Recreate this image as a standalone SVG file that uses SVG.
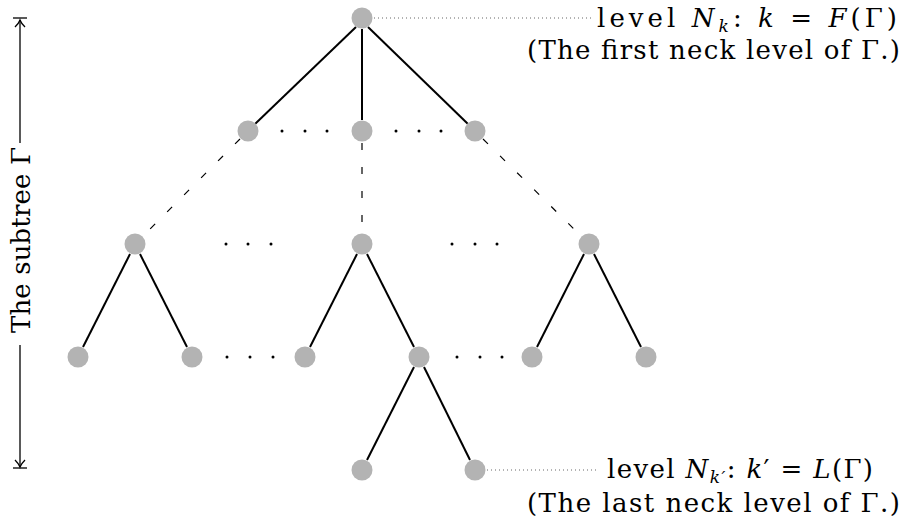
<svg xmlns="http://www.w3.org/2000/svg" width="920" height="526" viewBox="0 0 920 526">
<style>
.n{fill:#b3b3b3}
.e{stroke:#000;stroke-width:2;fill:none;stroke-linecap:butt}
.d{stroke:#000;stroke-width:1.2;fill:none;stroke-dasharray:7 17}
.dot{fill:#000}
.lead{stroke:#666;stroke-width:1;stroke-dasharray:1 3;fill:none}
.t{font-family:"DejaVu Serif",serif;font-size:26px;fill:#000}
</style>
<defs>
<marker id="ah" viewBox="-8 -6 10 12" refX="0" refY="0" markerWidth="10" markerHeight="12" markerUnits="userSpaceOnUse" orient="auto">
<path d="M-7,-5 Q-3,-1 0,0 Q-3,1 -7,5" stroke="#000" stroke-width="1.3" fill="none"/>
</marker>
</defs>
<g id="connectors">
<line class="e" x1="356" y1="27" x2="255" y2="124"/>
<line class="e" x1="362" y1="29" x2="362" y2="120"/>
<line class="e" x1="368" y1="27" x2="468" y2="124"/>
<line class="d" x1="240" y1="139" x2="143" y2="236"/>
<line class="d" x1="362" y1="143" x2="362" y2="234"/>
<line class="d" x1="483" y1="139" x2="581" y2="236"/>
<line class="e" x1="130" y1="254" x2="83" y2="347"/>
<line class="e" x1="140" y1="254" x2="187" y2="347"/>
<line class="e" x1="357" y1="254" x2="310" y2="347"/>
<line class="e" x1="367" y1="254" x2="414" y2="347"/>
<line class="e" x1="584" y1="254" x2="537" y2="347"/>
<line class="e" x1="594" y1="254" x2="641" y2="347"/>
<line class="e" x1="414" y1="367" x2="367" y2="460"/>
<line class="e" x1="424" y1="367" x2="470" y2="460"/>
<line class="lead" x1="374" y1="18" x2="592" y2="18"/>
<line class="lead" x1="487" y1="470" x2="598" y2="470"/>
</g>
<g id="dots">
<circle class="dot" cx="282" cy="131" r="1.5"/><circle class="dot" cx="305" cy="131" r="1.5"/><circle class="dot" cx="327" cy="131" r="1.5"/>
<circle class="dot" cx="396" cy="131" r="1.5"/><circle class="dot" cx="419" cy="131" r="1.5"/><circle class="dot" cx="441" cy="131" r="1.5"/>
<circle class="dot" cx="226" cy="244" r="1.5"/><circle class="dot" cx="248" cy="244" r="1.5"/><circle class="dot" cx="271" cy="244" r="1.5"/>
<circle class="dot" cx="452" cy="244" r="1.5"/><circle class="dot" cx="475" cy="244" r="1.5"/><circle class="dot" cx="497" cy="244" r="1.5"/>
<circle class="dot" cx="227" cy="357" r="1.5"/><circle class="dot" cx="250" cy="357" r="1.5"/><circle class="dot" cx="273" cy="357" r="1.5"/>
<circle class="dot" cx="457" cy="357" r="1.5"/><circle class="dot" cx="480" cy="357" r="1.5"/><circle class="dot" cx="502" cy="357" r="1.5"/>
</g>
<g id="n0"><circle class="n" cx="362" cy="18" r="10.5"/></g>
<g id="n1a"><circle class="n" cx="248" cy="131" r="10.5"/></g>
<g id="n1b"><circle class="n" cx="362" cy="131" r="10.5"/></g>
<g id="n1c"><circle class="n" cx="475" cy="131" r="10.5"/></g>
<g id="n2a"><circle class="n" cx="135" cy="244" r="10.5"/></g>
<g id="n2b"><circle class="n" cx="362" cy="244" r="10.5"/></g>
<g id="n2c"><circle class="n" cx="589" cy="244" r="10.5"/></g>
<g id="n3a"><circle class="n" cx="78" cy="357" r="10.5"/></g>
<g id="n3b"><circle class="n" cx="192" cy="357" r="10.5"/></g>
<g id="n3c"><circle class="n" cx="305" cy="357" r="10.5"/></g>
<g id="n3d"><circle class="n" cx="419" cy="357" r="10.5"/></g>
<g id="n3e"><circle class="n" cx="532" cy="357" r="10.5"/></g>
<g id="n3f"><circle class="n" cx="646" cy="357" r="10.5"/></g>
<g id="n4a"><circle class="n" cx="362" cy="470" r="10.5"/></g>
<g id="n4b"><circle class="n" cx="475" cy="470" r="10.5"/></g>
<g id="label-top">
<text class="t" x="597" y="27" textLength="300" lengthAdjust="spacing">level <tspan font-style="italic">N</tspan><tspan font-size="17" font-style="italic" dy="5">k</tspan><tspan dy="-5">: </tspan><tspan font-style="italic">k</tspan> = <tspan font-style="italic">F</tspan>(Γ)</text>
<text class="t" x="527" y="59" textLength="373" lengthAdjust="spacing">(The first neck level of Γ.)</text>
</g>
<g id="label-bottom">
<text class="t" x="607" y="478" textLength="266" lengthAdjust="spacing">level <tspan font-style="italic">N</tspan><tspan font-size="17" font-style="italic" dy="5">k′</tspan><tspan dy="-5">: </tspan><tspan font-style="italic">k</tspan>′ = <tspan font-style="italic">L</tspan>(Γ)</text>
<text class="t" x="527" y="512" textLength="373" lengthAdjust="spacing">(The last neck level of Γ.)</text>
</g>
<g id="subtree-span">
<line class="e" style="stroke-width:1.3" x1="20" y1="143" x2="20" y2="20" marker-end="url(#ah)"/>
<line class="e" style="stroke-width:1.3" x1="20" y1="345" x2="20" y2="467" marker-end="url(#ah)"/>
<line class="e" style="stroke-width:1.3" x1="13" y1="18" x2="27" y2="18"/>
<line class="e" style="stroke-width:1.3" x1="13" y1="468" x2="27" y2="468"/>
<text class="t" x="0" y="0" transform="translate(30,240) rotate(-90)" text-anchor="middle" textLength="186" lengthAdjust="spacing">The subtree Γ</text>
</g>
</svg>
